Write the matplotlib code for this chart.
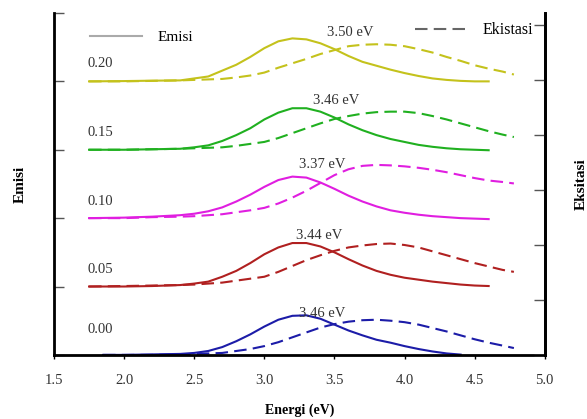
import numpy as np
import matplotlib
matplotlib.use("Agg")
import matplotlib.pyplot as plt
from matplotlib.lines import Line2D

plt.rcParams["font.family"] = ["Liberation Serif", "DejaVu Serif"]

# energy grids (eV)
energy_em = [1.75, 2.0, 2.2, 2.4, 2.5, 2.6, 2.7, 2.8, 2.9, 3.0, 3.1, 3.2, 3.3, 3.4,
             3.5, 3.6, 3.7, 3.8, 3.9, 4.0, 4.1, 4.2, 4.3, 4.4, 4.5, 4.6]
energy_ex = [1.75, 2.0, 2.2, 2.4, 2.5, 2.6, 2.7, 2.8, 2.9, 3.0, 3.1, 3.2, 3.3, 3.4,
             3.5, 3.6, 3.7, 3.8, 3.9, 4.0, 4.1, 4.2, 4.3, 4.4, 4.5, 4.6, 4.7, 4.78]
energy_em_000 = [1.85, 2.0, 2.2, 2.4, 2.5, 2.6, 2.7, 2.8, 2.9, 3.0, 3.1, 3.2, 3.3, 3.4,
                 3.5, 3.6, 3.7, 3.8, 3.9, 4.0, 4.1, 4.2, 4.3, 4.4]
energy_ex_000 = [1.85, 2.0, 2.2, 2.4, 2.5, 2.6, 2.7, 2.8, 2.9, 3.0, 3.1, 3.2, 3.3, 3.4,
                 3.5, 3.6, 3.7, 3.8, 3.9, 4.0, 4.1, 4.2, 4.3, 4.4, 4.5, 4.6, 4.7, 4.78]

# emission / excitation intensity (a.u.) per concentration
em_000 = [0, 0, 0.5, 1, 2, 4, 8, 14, 21, 29, 36, 40, 40.5, 37, 31, 25, 20, 15.5,
          12.5, 9, 6, 3.5, 1.5, 0.3]
ex_000 = [0, 0, 0, 0.5, 1, 1.5, 2, 4, 6, 9, 13, 18, 23, 28, 31.5, 34, 35.5, 36,
          35, 33.5, 31, 27.5, 24, 20, 16, 12.5, 9.5, 7]
em_005 = [0, 0, 0.5, 1.5, 3, 5, 10, 16, 24, 33, 40, 44.5, 44.5, 41, 35, 28, 21.5, 16,
          12, 9, 7, 5, 3.5, 2, 1, 0.5]
ex_005 = [0, 0.5, 1, 1.5, 2, 3, 4, 6, 8, 10, 15, 21, 27, 32, 36.5, 40, 42, 43.5,
          44, 42.5, 40, 36, 32, 28, 24, 20.5, 17, 15]
em_010 = [0, 0.5, 1.5, 3, 4.5, 7, 11, 17, 24, 32, 39, 42.5, 41.5, 36.5, 30, 23, 17,
          12, 8, 5.5, 3.5, 2, 1, 0, -0.5, -1]
ex_010 = [0, 0, 1, 1.5, 2, 3, 4, 6, 8, 10.5, 15, 21, 28, 36, 44, 50, 53.5, 54.5,
          54, 53, 51.5, 49.5, 47, 44, 41, 38.5, 37, 35.5]
em_015 = [0, 0, 0.5, 1, 2.5, 4.5, 9, 15, 22, 31, 38, 42.5, 42.5, 39, 33, 26, 20, 15,
          11, 8, 5, 3, 1.5, 0.5, 0, -0.5]
ex_015 = [0, 0, 0.5, 1, 1.5, 2, 2.5, 4, 6, 8, 12, 17, 22, 27, 31.5, 34.5, 37,
          38.5, 39, 39, 37.5, 34.5, 31, 27, 23, 19, 15.5, 13]
em_020 = [0, 0.3, 0.7, 1, 3, 5, 11, 17, 25, 34, 41, 44, 43, 39, 33, 26, 20, 16,
          12, 8.5, 5.5, 3, 1.5, 0.5, 0, 0]
ex_020 = [0, 0, 0.5, 1, 1.5, 2, 2.5, 4, 6, 9, 14, 18.5, 23, 28, 32, 36, 37.5, 38,
          37.5, 36, 33, 29.5, 25, 21, 16.5, 13, 10, 7]

labels = ["0.00", "0.05", "0.10", "0.15", "0.20"]
peaks = ["3.46 eV", "3.44 eV", "3.37 eV", "3.46 eV", "3.50 eV"]
peak_x = [3.41, 3.39, 3.41, 3.51, 3.61]
peak_dy = [42, 52, 55, 50, 50]
label_dy = [26, 17, 17, 18, 18]
colors = ["#1c1ca8", "#b02020", "#e01ee0", "#20b020", "#c4c21c"]
offset_step = 70

emission = [(energy_em_000, em_000), (energy_em, em_005), (energy_em, em_010),
            (energy_em, em_015), (energy_em, em_020)]
excitation = [(energy_ex_000, ex_000), (energy_ex, ex_005), (energy_ex, ex_010),
              (energy_ex, ex_015), (energy_ex, ex_020)]

fig = plt.figure(figsize=(5.87, 4.19), dpi=100)
ax = fig.add_axes([0.092, 0.153, 0.836, 0.816])

for i in range(5):
    off = i * offset_step
    xe, ye = emission[i]
    xx, yx = excitation[i]
    ax.plot(xe, np.array(ye) + off, color=colors[i], lw=1.5, solid_joinstyle="round")
    ax.plot(xx, np.array(yx) + off, color=colors[i], lw=1.5, dashes=(6, 3))
    ax.text(1.74, off + label_dy[i], labels[i], fontsize=10.5, va="center",
            ha="left", color="#333333")
    ax.text(peak_x[i], off + peak_dy[i], peaks[i], fontsize=10.5, va="center",
            ha="center", color="#333333")

ax.set_xlim(1.5, 5.0)
ax.set_ylim(0, 350)
ax.set_xticks(np.arange(1.5, 5.01, 0.5))
ax.set_xticklabels([f"{v:.1f}" for v in np.arange(1.5, 5.01, 0.5)], fontsize=10.5,
                   color="#333333")
ax.set_yticks(np.arange(0, 351, offset_step))
ax.set_yticklabels([])
ax.tick_params(axis="y", direction="in", length=7, width=1, color="#555555")
ax.tick_params(axis="x", direction="out", length=3, width=1, pad=11)
ax.spines["top"].set_visible(False)
for s in ["left", "bottom", "right"]:
    ax.spines[s].set_linewidth(2)

ax.set_xlabel("Energi (eV)", fontsize=10, fontweight="bold", labelpad=12)
ax.set_ylabel("Emisi", fontsize=11, fontweight="bold", labelpad=16)

ax2 = ax.twinx()
ax2.set_ylim(0, 6.22)
ax2.set_yticks(np.arange(0, 7, 1))
ax2.set_yticklabels([])
ax2.tick_params(axis="y", direction="in", length=8, width=1, color="#555555")
ax2.spines["top"].set_visible(False)
ax2.spines["right"].set_linewidth(2)
ax2.set_ylabel("Eksitasi", fontsize=11, fontweight="bold", labelpad=18)

leg1 = ax.legend(handles=[Line2D([], [], color="#aaaaaa", lw=1.5)], labels=["Emisi"],
                 loc="upper left", bbox_to_anchor=(0.045, 0.99), frameon=False,
                 handlelength=3.4, handletextpad=1.0, fontsize=11)
ax.add_artist(leg1)
ax.legend(handles=[Line2D([], [], color="#666666", lw=1.5, dashes=(6, 3))],
          labels=["Ekistasi"], loc="upper right", bbox_to_anchor=(1.005, 1.015),
          frameon=False, handlelength=3.2, handletextpad=1.0, fontsize=11.5)

fig.savefig("out.png", dpi=100)
